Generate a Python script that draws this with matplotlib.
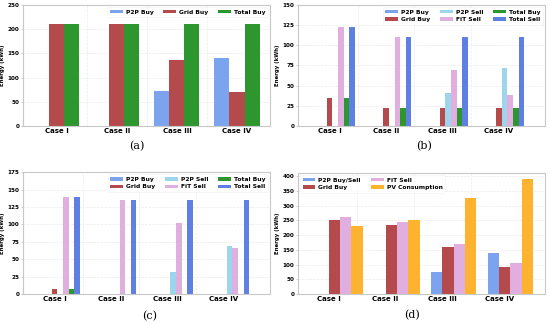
import numpy as np
import matplotlib.pyplot as plt
from matplotlib.ticker import FixedLocator

cases = ["Case I", "Case II", "Case III", "Case IV"]

# (a) buying
a_p2p_buy = [0, 0, 73, 140]
a_grid_buy = [211, 211, 137, 70]
a_total_buy = [211, 211, 211, 211]

# (b)
b_p2p_buy = [0, 0, 0, 0]
b_grid_buy = [35, 22, 22, 22]
b_p2p_sell = [0, 0, 41, 72]
b_fit_sell = [123, 110, 69, 38]
b_total_buy = [35, 22, 22, 22]
b_total_sell = [123, 110, 110, 110]

# (c)
c_p2p_buy = [0, 0, 0, 0]
c_grid_buy = [7, 0, 0, 0]
c_p2p_sell = [0, 0, 32, 69]
c_fit_sell = [140, 135, 102, 66]
c_total_buy = [7, 0, 0, 0]
c_total_sell = [140, 135, 135, 135]

# (d)
d_p2p = [0, 0, 73, 140]
d_grid_buy = [253, 233, 160, 93]
d_fit_sell = [263, 245, 171, 104]
d_pv_cons = [232, 251, 325, 392]

CLR = {"P2P Buy": "#7ba3ee", "Grid Buy": "#b44a4c", "Total Buy": "#2e962e",
       "P2P Sell": "#9dd6ec", "FiT Sell": "#e1aee0", "Total Sell": "#5f80e2",
       "P2P Buy/Sell": "#7ba3ee", "PV Consumption": "#fdb32f"}

plt.rcParams["font.family"] = "DejaVu Sans"
fig = plt.figure(figsize=(5.5, 3.23), dpi=100)
x = np.arange(len(cases))


def style(ax, ylim, yticks):
    ax.set_xticks(x)
    ax.set_xticklabels(cases, fontsize=5, fontweight="bold")
    ax.set_ylim(*ylim)
    ax.set_yticks(yticks)
    ax.set_yticklabels([str(t) for t in yticks], fontsize=4.1, fontweight="bold")
    ax.set_ylabel("Energy (kWh)", fontsize=3.9, fontweight="bold", labelpad=1.5)
    ax.tick_params(axis="both", length=1.5, width=0.5, color="#bbbbbb", pad=1.2)
    ax.tick_params(axis="x", length=0)
    for sp in ax.spines.values():
        sp.set_color("#c8c8c8"); sp.set_linewidth(0.8)
    ax.grid(axis="y", color="#ececec", linewidth=0.5, linestyle="--")
    ax.xaxis.set_minor_locator(FixedLocator(x[:-1] + 0.5))
    ax.grid(axis="x", which="minor", color="#ececec", linewidth=0.5, linestyle="--")
    ax.tick_params(axis="x", which="minor", length=0)
    ax.set_axisbelow(True)


def legend(ax, loc, ncol):
    lg = ax.legend(loc=loc, ncol=ncol, frameon=True,
                   handlelength=2.1, handleheight=0.5, columnspacing=1.7,
                   handletextpad=0.5, borderpad=0.45, labelspacing=0.4,
                   borderaxespad=0.35, prop={"weight": "bold", "size": 4.3})
    lg.get_frame().set_edgecolor("#f0f0f0"); lg.get_frame().set_linewidth(0.5)


# (a)
ax = fig.add_axes([0.042, 0.610, 0.449, 0.375])
w = 0.25
for i, (lab, vals) in enumerate([("P2P Buy", a_p2p_buy), ("Grid Buy", a_grid_buy),
                                 ("Total Buy", a_total_buy)]):
    ax.bar(x + (i - 1) * w, vals, w, color=CLR[lab], label=lab)
style(ax, (0, 250), [0, 50, 100, 150, 200, 250])
ax.set_xlim(-0.56, 3.55)
legend(ax, "upper right", 3)
fig.text(0.249, 0.548, "(a)", ha="center", va="center", fontsize=8, family="serif")

# (b) and (c)
def six(pos, series, ylim, yticks, cap, cy):
    ax = fig.add_axes(pos)
    w = 0.1
    for i, (lab, vals) in enumerate(series):
        ax.bar(x + (i - 1) * w, vals, w, color=CLR[lab], label=lab)
    style(ax, ylim, yticks)
    ax.set_xlim(-0.56, 3.82)
    legend(ax, "upper right", 3)
    fig.text(pos[0] + pos[2] / 2 + 0.005, cy, cap, ha="center", va="center",
             fontsize=8, family="serif")

six([0.542, 0.610, 0.449, 0.375],
    [("P2P Buy", b_p2p_buy), ("Grid Buy", b_grid_buy), ("P2P Sell", b_p2p_sell),
     ("FiT Sell", b_fit_sell), ("Total Buy", b_total_buy), ("Total Sell", b_total_sell)],
    (0, 150), [0, 25, 50, 75, 100, 125, 150], "(b)", 0.548)

six([0.042, 0.090, 0.449, 0.377],
    [("P2P Buy", c_p2p_buy), ("Grid Buy", c_grid_buy), ("P2P Sell", c_p2p_sell),
     ("FiT Sell", c_fit_sell), ("Total Buy", c_total_buy), ("Total Sell", c_total_sell)],
    (0, 175), [0, 25, 50, 75, 100, 125, 150, 175], "(c)", 0.022)

# (d)
ax = fig.add_axes([0.542, 0.090, 0.449, 0.374])
w = 0.2
for i, (lab, vals) in enumerate([("P2P Buy/Sell", d_p2p), ("Grid Buy", d_grid_buy),
                                 ("FiT Sell", d_fit_sell), ("PV Consumption", d_pv_cons)]):
    ax.bar(x + (i - 0.5) * w, vals, w, color=CLR[lab], label=lab)
style(ax, (0, 411), [0, 50, 100, 150, 200, 250, 300, 350, 400])
ax.set_xlim(-0.54, 3.81)
legend(ax, "upper left", 2)
fig.text(0.749, 0.025, "(d)", ha="center", va="center", fontsize=8, family="serif")

fig.savefig("out.png", dpi=100)
